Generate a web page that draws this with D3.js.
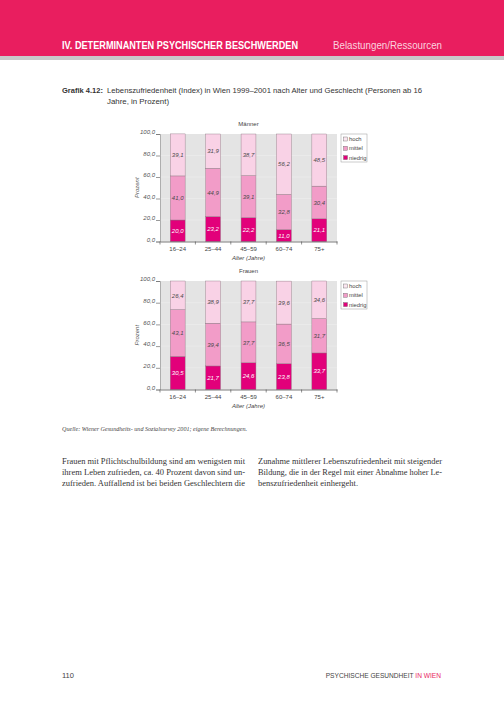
<!DOCTYPE html>
<html>
<head>
<meta charset="utf-8">
<script src="https://cdn.jsdelivr.net/npm/d3@7"></script>
<style>
  body { margin: 0; background: #fff; }
  svg { display: block; }
</style>
</head>
<body>
<div id="page"></div>
<script>
const ageGroups = ['16–24', '25–44', '45–59', '60–74', '75+'];
const levels = ['niedrig', 'mittel', 'hoch'];
const legendOrder = ['hoch', 'mittel', 'niedrig'];
const yTicks = [0, 20, 40, 60, 80, 100];

// Männer
const maennerNiedrig = [20.0, 23.2, 22.2, 11.0, 21.1];
const maennerMittel = [41.0, 44.9, 39.1, 32.8, 30.4];
const maennerHoch = [39.1, 31.9, 38.7, 56.2, 48.5];

// Frauen
const frauenNiedrig = [30.5, 21.7, 24.6, 23.8, 33.7];
const frauenMittel = [43.1, 39.4, 37.7, 36.5, 31.7];
const frauenHoch = [26.4, 38.9, 37.7, 39.6, 34.6];

const colors = { niedrig: '#e2007a', mittel: '#f29cc8', hoch: '#f9d2e6' };
const sans = "'Liberation Sans', Arial, sans-serif";
const serif = "'Liberation Serif', 'DejaVu Serif', serif";
const pink = '#e91e5f';

const W = 504, H = 713;
const svg = d3.select('#page').append('svg').attr('width', W).attr('height', H);

// header band
svg.append('rect').attr('x', 0).attr('y', 0).attr('width', W).attr('height', 56).attr('fill', pink);
svg.append('rect').attr('x', 0).attr('y', 56).attr('width', W).attr('height', 4).attr('fill', '#c9c9c9');
svg.append('text')
  .attr('x', 62).attr('y', 49)
  .attr('font-family', sans).attr('font-weight', 'bold').attr('font-size', 10.5)
  .attr('fill', '#fff')
  .attr('textLength', 236).attr('lengthAdjust', 'spacingAndGlyphs')
  .text('IV. DETERMINANTEN PSYCHISCHER BESCHWERDEN');
svg.append('text')
  .attr('x', 333).attr('y', 49)
  .attr('font-family', sans).attr('font-size', 10.5)
  .attr('fill', '#fbd3df')
  .attr('textLength', 109).attr('lengthAdjust', 'spacingAndGlyphs')
  .text('Belastungen/Ressourcen');

// caption
svg.append('text')
  .attr('x', 62).attr('y', 93)
  .attr('font-family', sans).attr('font-weight', 'bold').attr('font-size', 8)
  .attr('fill', '#333')
  .attr('textLength', 41).attr('lengthAdjust', 'spacingAndGlyphs')
  .text('Grafik 4.12:');
svg.append('text')
  .attr('x', 107).attr('y', 93)
  .attr('font-family', sans).attr('font-size', 8).attr('fill', '#333')
  .attr('textLength', 315).attr('lengthAdjust', 'spacingAndGlyphs')
  .text('Lebenszufriedenheit (Index) in Wien 1999–2001 nach Alter und Geschlecht (Personen ab 16');
svg.append('text')
  .attr('x', 107).attr('y', 104)
  .attr('font-family', sans).attr('font-size', 8).attr('fill', '#333')
  .attr('textLength', 62).attr('lengthAdjust', 'spacingAndGlyphs')
  .text('Jahre, in Prozent)');

const fmt = (v) => d3.format('.1f')(v).replace('.', ',');

function drawChart(title, niedrig, mittel, hoch, top, bottom) {
  const left = 160, right = 337;

  const rows = ageGroups.map((a, i) => ({ age: a, niedrig: niedrig[i], mittel: mittel[i], hoch: hoch[i] }));
  const series = d3.stack().keys(levels)(rows);

  const x = d3.scaleBand().domain(ageGroups).range([left, right]).paddingInner(0.58).paddingOuter(0.29);
  const y = d3.scaleLinear().domain([0, 100]).range([bottom, top]);

  const g = svg.append('g');

  g.append('rect')
    .attr('x', left).attr('y', top)
    .attr('width', right - left).attr('height', bottom - top)
    .attr('fill', '#e4e4e4');

  // faint grid
  g.selectAll('line.grid')
    .data(yTicks.slice(1, -1))
    .join('line')
    .attr('x1', left).attr('x2', right)
    .attr('y1', (d) => y(d)).attr('y2', (d) => y(d))
    .attr('stroke', '#eeeeee').attr('stroke-width', 0.6);

  g.append('text')
    .attr('x', (left + right) / 2).attr('y', top - 8)
    .attr('text-anchor', 'middle')
    .attr('font-family', sans).attr('font-size', 6).attr('fill', '#444')
    .text(title);

  // bars
  series.forEach((s) => {
    g.append('g')
      .selectAll('rect')
      .data(s)
      .join('rect')
      .attr('x', (d) => x(d.data.age))
      .attr('y', (d) => y(d[1]))
      .attr('width', x.bandwidth())
      .attr('height', (d) => y(d[0]) - y(d[1]))
      .attr('fill', colors[s.key])
      .attr('stroke', '#8c7580')
      .attr('stroke-width', 0.4);

    g.append('g')
      .selectAll('text')
      .data(s)
      .join('text')
      .attr('x', (d) => x(d.data.age) + x.bandwidth() / 2)
      .attr('y', (d) => (y(d[0]) + y(d[1])) / 2 + 2.2)
      .attr('text-anchor', 'middle')
      .attr('font-family', sans).attr('font-style', 'italic').attr('font-size', 6)
      .attr('fill', s.key === 'niedrig' ? '#fff' : '#4a4a4a')
      .text((d) => fmt(d.data[s.key]));
  });

  // y axis
  const yAxis = d3.axisLeft(y).tickValues(yTicks).tickSize(4).tickPadding(1).tickFormat(fmt);
  const ya = g.append('g').attr('transform', 'translate(' + left + ',0)').call(yAxis);
  ya.select('.domain').attr('stroke', '#8a8a8a').attr('stroke-width', 0.6);
  ya.selectAll('.tick line').attr('stroke', '#555').attr('stroke-width', 0.6);
  ya.selectAll('.tick text')
    .attr('dy', '-0.3')
    .attr('font-family', sans).attr('font-style', 'italic').attr('font-size', 6)
    .attr('fill', '#555');

  g.append('text')
    .attr('transform', 'translate(139,' + (top + bottom) / 2 + ') rotate(-90)')
    .attr('text-anchor', 'middle')
    .attr('font-family', sans).attr('font-style', 'italic').attr('font-size', 6)
    .attr('fill', '#555')
    .text('Prozent');

  // x axis
  const xAxis = d3.axisBottom(x).tickSize(0).tickPadding(5.5);
  const xa = g.append('g').attr('transform', 'translate(0,' + bottom + ')').call(xAxis);
  xa.select('.domain').attr('stroke', '#444').attr('stroke-width', 0.7);
  xa.selectAll('.tick text')
    .attr('font-family', sans).attr('font-size', 6).attr('fill', '#444');

  // boundary ticks between categories
  const bounds = d3.range(ageGroups.length + 1).map((i) => left + i * x.step());
  g.selectAll('line.bound')
    .data(bounds)
    .join('line')
    .attr('x1', (d) => d).attr('x2', (d) => d)
    .attr('y1', bottom).attr('y2', bottom + 3)
    .attr('stroke', '#444').attr('stroke-width', 0.6);

  g.append('text')
    .attr('x', (left + right) / 2).attr('y', bottom + 18.5)
    .attr('text-anchor', 'middle')
    .attr('font-family', sans).attr('font-style', 'italic').attr('font-size', 6)
    .attr('fill', '#444')
    .text('Alter (Jahre)');

  // legend
  const lg = g.append('g').attr('transform', 'translate(341,' + top + ')');
  lg.append('rect')
    .attr('width', 26).attr('height', 28)
    .attr('fill', '#fff').attr('stroke', '#999').attr('stroke-width', 0.5);
  legendOrder.forEach((k, i) => {
    const cy = 5 + i * 9.3;
    lg.append('rect')
      .attr('x', 2.5).attr('y', cy - 2).attr('width', 4).attr('height', 4)
      .attr('fill', k === 'hoch' ? '#fbe6f0' : colors[k])
      .attr('stroke', '#666').attr('stroke-width', 0.4);
    lg.append('text')
      .attr('x', 8).attr('y', cy + 2.1)
      .attr('font-family', sans).attr('font-size', 5.8).attr('fill', '#444')
      .text(k);
  });
}

drawChart('Männer', maennerNiedrig, maennerMittel, maennerHoch, 134, 241.5);
drawChart('Frauen', frauenNiedrig, frauenMittel, frauenHoch, 281, 389.5);

// source
svg.append('text')
  .attr('x', 62).attr('y', 431)
  .attr('font-family', serif).attr('font-style', 'italic').attr('font-size', 6.3)
  .attr('fill', '#444')
  .attr('textLength', 185).attr('lengthAdjust', 'spacingAndGlyphs')
  .text('Quelle:  Wiener Gesundheits- und Sozialsurvey 2001; eigene Berechnungen.');

// body text, two justified columns
const leftLines = [
  'Frauen mit Pflichtschulbildung sind am wenigsten mit',
  'ihrem Leben zufrieden, ca. 40 Prozent davon sind un-',
  'zufrieden. Auffallend ist bei beiden Geschlechtern die'
];
const rightLines = [
  'Zunahme mittlerer Lebenszufriedenheit mit steigender',
  'Bildung, die in der Regel mit einer Abnahme hoher Le-',
  'benszufriedenheit einhergeht.'
];
leftLines.forEach((t, i) => {
  svg.append('text')
    .attr('x', 62).attr('y', 464 + i * 10.9)
    .attr('font-family', serif).attr('font-size', 9).attr('fill', '#333')
    .attr('textLength', 183).attr('lengthAdjust', 'spacingAndGlyphs')
    .text(t);
});
rightLines.forEach((t, i) => {
  const tx = svg.append('text')
    .attr('x', 258).attr('y', 464 + i * 10.9)
    .attr('font-family', serif).attr('font-size', 9).attr('fill', '#333')
    .text(t);
  if (i < rightLines.length - 1) {
    tx.attr('textLength', 184).attr('lengthAdjust', 'spacingAndGlyphs');
  } else {
    tx.attr('textLength', 100).attr('lengthAdjust', 'spacingAndGlyphs');
  }
});

// footer
svg.append('text')
  .attr('x', 62).attr('y', 678)
  .attr('font-family', sans).attr('font-size', 7.5).attr('fill', '#444')
  .attr('textLength', 12).attr('lengthAdjust', 'spacingAndGlyphs')
  .text('110');
const foot = svg.append('text')
  .attr('x', 441).attr('y', 678)
  .attr('text-anchor', 'end')
  .attr('font-family', sans).attr('font-size', 6.6).attr('fill', '#444');
foot.append('tspan').text('PSYCHISCHE GESUNDHEIT ');
foot.append('tspan').attr('fill', pink).text('IN WIEN');
</script>
</body>
</html>
